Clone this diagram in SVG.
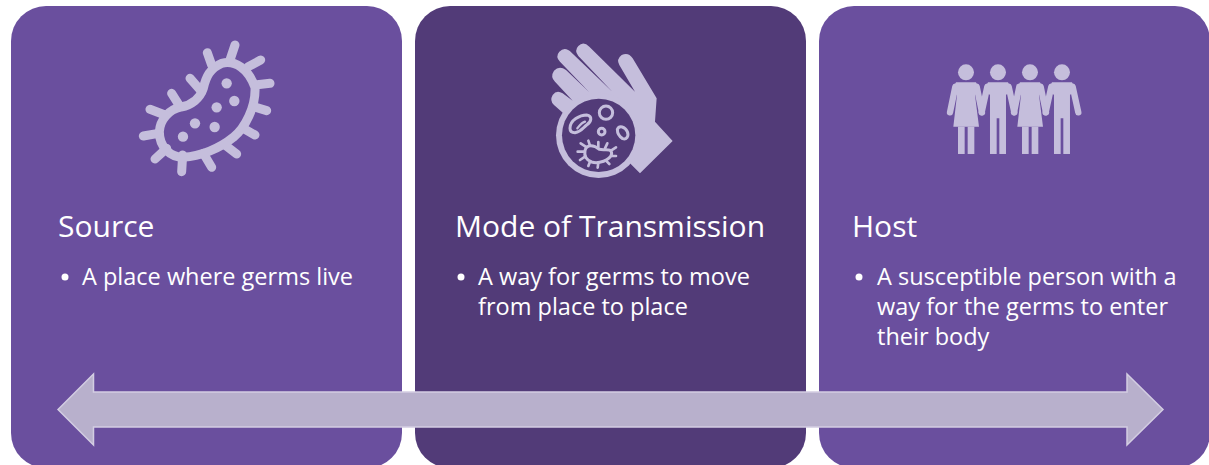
<svg xmlns="http://www.w3.org/2000/svg" width="1209" height="465" viewBox="0 0 1209 465">
<style>
.card{fill:#6a4f9e}.dark{fill:#523b78}
.t{font-family:"Open Sans","Noto Sans",sans-serif;fill:#fff}
.h{font-size:30px}.b{font-size:23.5px}
.ic{fill:#c5bedc}.ln{fill:none;stroke:#c5bedc;stroke-linecap:round;stroke-linejoin:round}
</style>
<defs>
<g id="woman"><circle cx="0" cy="67" r="24" class="ic"/><path class="ic" d="M-30 97H30L40 120L27 135L39 230H-38L-27 135L-40 120Z"/><rect x="-24" y="230" width="20" height="82" class="ic"/><rect x="5" y="230" width="20" height="82" class="ic"/><path class="ln" stroke-width="19" d="M-32 110L-48 187M32 110L48 187"/></g>
<g id="man"><circle cx="0" cy="67" r="24" class="ic"/><path class="ic" d="M-30 97H30L40 120L24 135V205H-24V135L-40 120Z"/><rect x="-24" y="200" width="20" height="112" class="ic"/><rect x="4" y="200" width="20" height="112" class="ic"/><path class="ln" stroke-width="19" d="M-32 110L-49 187M32 110L49 187"/></g>
</defs>
<rect width="1209" height="465" fill="#fff"/>
<g id="source">
<rect class="card" x="11" y="6" width="391" height="462" rx="35"/>
<g transform="translate(120 30) scale(.3333)">
<path class="ln" stroke-width="27" d="M118 305C120 270 145 240 183 231C215 225 240 205 250 175C258 140 270 115 305 100C345 90 385 115 405 172C408 230 375 295 340 322C300 355 240 380 190 382C150 382 118 350 118 305Z"/>
<path class="ln" stroke-width="27" d="M345 45L330 90M262 68L275 105M422 90L385 110M450 160L405 165M440 242L400 230M405 315L370 295M350 372L315 345M275 412L250 370M185 425L188 375M105 387L140 355M70 318L115 310M90 238L135 255M155 190L180 230M210 145L245 185"/>
<g class="ic"><circle cx="320" cy="160" r="15.5"/><circle cx="343" cy="213" r="15.5"/><circle cx="290" cy="232" r="15.5"/><circle cx="225" cy="280" r="15.5"/><circle cx="284" cy="291" r="15.5"/><circle cx="189" cy="320" r="15.5"/></g>
</g>
<text class="t h" x="58" y="237">Source</text>
<circle cx="65" cy="277" r="3.5" fill="#fff"/>
<text class="t b" x="82" y="285">A place where germs live</text>
</g>
<g id="mode">
<rect class="dark" x="415" y="6" width="391" height="462" rx="35"/>
<g transform="translate(530 30) scale(.3333)">
<path class="ic" d="M315 185L178 50Q160 32 145 48Q132 62 145 78L247 185L125 68Q105 48 88 65Q75 80 90 95L178 187L108 120Q88 105 72 122Q60 140 75 155L128 212L98 190Q80 178 68 195Q58 212 72 225L100 250L300 400L330 430L428 333L375 275L380 205L308 85Q295 65 275 75Q258 88 268 105Z"/>
<circle cx="206" cy="316" r="128" class="ic"/>
<circle cx="206" cy="316" r="110" class="dark"/>
<g class="ln">
<circle cx="228" cy="248" r="20" stroke-width="9"/>
<circle cx="215" cy="305" r="10" stroke-width="9"/>
<path stroke-width="9" d="M120 295C120 270 150 255 170 255C188 258 185 275 170 285C160 292 155 305 135 308C125 308 120 303 120 295Z"/>
<path stroke-width="7" d="M142 295C150 285 155 278 165 275"/>
<path stroke-width="9" d="M262 298C268 285 285 290 292 305C298 320 288 330 278 326C268 320 262 310 262 298Z"/>
<path stroke-width="9" d="M165 362C170 342 192 345 208 358C225 362 245 352 245 372C240 392 205 402 185 396C170 390 162 378 165 362Z"/>
<path stroke-width="8" d="M180 347L175 332M205 352L205 336M225 355L232 340M243 362L258 352M246 378L258 378M228 392L238 402M205 398L203 413M180 395L175 408M165 380L150 390M162 365L143 365M167 350L152 340"/>
</g>
</g>
<text class="t h" x="455" y="237">Mode of Transmission</text>
<circle cx="461" cy="277" r="3.5" fill="#fff"/>
<text class="t b" x="478" y="285">A way for germs to move</text>
<text class="t b" x="478" y="315">from place to place</text>
</g>
<g id="host">
<rect class="card" x="819" y="6" width="391" height="462" rx="35"/>
<g transform="translate(930 50) scale(.3333)">
<use href="#woman" x="108"/><use href="#man" x="204"/><use href="#woman" x="300"/><use href="#man" x="396"/>
</g>
<text class="t h" x="852" y="237">Host</text>
<circle cx="859" cy="277" r="3.5" fill="#fff"/>
<text class="t b" x="877" y="285">A susceptible person with a</text>
<text class="t b" x="877" y="315">way for the germs to enter</text>
<text class="t b" x="877" y="345">their body</text>
</g>
<g id="connectors">
<path d="M58 409.5L93.5 374V392H1127V374L1163 409.5L1127 445V427H93.5V445Z" fill="#b8b0cc" stroke="#d3cde2" stroke-width="1.5"/>
</g>
</svg>
